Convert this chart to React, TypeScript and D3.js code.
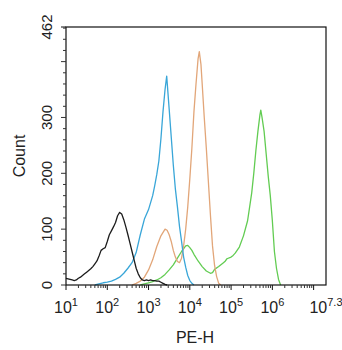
import * as d3 from 'd3';
import React, { useEffect, useRef } from 'react';

// [log10(PE-H), count]
const blackCounts: [number, number][] = [
  [1.0, 12], [1.05, 11], [1.1, 10], [1.15, 9], [1.2, 8], [1.25, 9], [1.3, 12], [1.35, 14],
  [1.4, 17], [1.45, 20], [1.5, 23], [1.55, 26], [1.6, 29], [1.65, 33], [1.7, 38], [1.75, 43],
  [1.8, 52], [1.85, 62], [1.9, 65], [1.95, 67], [2.0, 78], [2.05, 90], [2.1, 97], [2.15, 104],
  [2.2, 112], [2.25, 124], [2.3, 130], [2.35, 127], [2.4, 117], [2.45, 104], [2.5, 90], [2.55, 75],
  [2.6, 60], [2.65, 45], [2.7, 30], [2.75, 20], [2.8, 13], [2.85, 9], [2.9, 8], [2.95, 9],
  [3.0, 8], [3.05, 9], [3.1, 8], [3.15, 8], [3.2, 7], [3.25, 7], [3.3, 5], [3.35, 3], [3.4, 1], [3.45, 0],
];

const blueCounts: [number, number][] = [
  [1.7, 0], [1.8, 2], [1.9, 4], [2.0, 5], [2.1, 7], [2.2, 10], [2.3, 14], [2.4, 21], [2.5, 30],
  [2.6, 40], [2.7, 58], [2.8, 90], [2.9, 118], [3.0, 135], [3.1, 160], [3.15, 178], [3.2, 198],
  [3.25, 222], [3.3, 262], [3.35, 310], [3.4, 350], [3.44, 374], [3.5, 315], [3.55, 265], [3.6, 215],
  [3.65, 172], [3.7, 140], [3.75, 105], [3.8, 78], [3.85, 50], [3.9, 32], [3.95, 17], [4.0, 8],
  [4.05, 3], [4.1, 0],
];

const orangeCounts: [number, number][] = [
  [2.6, 0], [2.7, 3], [2.8, 7], [2.9, 14], [3.0, 27], [3.1, 45], [3.2, 69], [3.3, 88], [3.4, 100],
  [3.45, 98], [3.5, 90], [3.55, 78], [3.6, 62], [3.65, 50], [3.7, 42], [3.75, 40], [3.8, 48],
  [3.85, 70], [3.9, 100], [3.95, 140], [4.0, 190], [4.05, 245], [4.1, 310], [4.15, 360], [4.2, 405],
  [4.23, 418], [4.27, 395], [4.3, 360], [4.35, 300], [4.4, 245], [4.45, 185], [4.5, 125], [4.55, 70],
  [4.6, 35], [4.65, 15], [4.7, 3], [4.75, 0],
];

const greenCounts: [number, number][] = [
  [2.8, 0], [2.9, 2], [3.0, 4], [3.1, 6], [3.2, 9], [3.3, 13], [3.4, 19], [3.5, 27], [3.6, 36],
  [3.7, 48], [3.8, 60], [3.9, 70], [3.95, 71], [4.0, 67], [4.05, 62], [4.1, 55], [4.2, 43], [4.3, 33],
  [4.4, 25], [4.5, 21], [4.55, 22], [4.6, 28], [4.7, 33], [4.8, 39], [4.85, 42], [4.9, 47], [5.0, 50],
  [5.05, 53], [5.1, 57], [5.2, 68], [5.3, 88], [5.4, 115], [5.45, 140], [5.5, 165], [5.55, 200],
  [5.6, 240], [5.65, 275], [5.7, 305], [5.72, 313], [5.75, 300], [5.8, 275], [5.85, 235], [5.9, 195],
  [5.95, 160], [6.0, 115], [6.05, 60], [6.1, 30], [6.15, 10], [6.2, 0],
];

const xDecades = [1, 2, 3, 4, 5, 6];
const xTickLabels = ['1', '2', '3', '4', '5', '6', '7.3'];
const yTickLabels = [0, 100, 200, 300, 462];

const App: React.FC = () => {
  const ref = useRef<SVGSVGElement>(null);

  useEffect(() => {
    document.body.style.margin = '0';
    const width = 342;
    const height = 350;
    const left = 66, right = 326, top = 27, bottom = 285;

    const x = d3.scaleLinear().domain([1, 7.3]).range([left, right]);
    const y = d3.scaleLinear().domain([0, 462]).range([bottom, top]);

    const svg = d3.select(ref.current);
    svg.selectAll('*').remove();
    svg.attr('width', width).attr('height', height).style('background', '#fff');

    const font = 'Liberation Sans, Arial, sans-serif';

    // curves
    const line = d3
      .line<[number, number]>()
      .x(d => x(d[0]))
      .y(d => y(d[1]));

    const series: [[number, number][], string][] = [
      [greenCounts, '#62cc52'],
      [orangeCounts, '#e2a679'],
      [blueCounts, '#39a6d8'],
      [blackCounts, '#1c1c1c'],
    ];
    series.forEach(([data, color]) => {
      svg
        .append('path')
        .attr('d', line(data))
        .attr('fill', 'none')
        .attr('stroke', color)
        .attr('stroke-width', 1.3)
        .attr('stroke-linejoin', 'round');
    });

    // frame
    svg
      .append('rect')
      .attr('x', left)
      .attr('y', top)
      .attr('width', right - left)
      .attr('height', bottom - top)
      .attr('fill', 'none')
      .attr('stroke', '#111')
      .attr('stroke-width', 1.2);

    // x ticks
    const xt = svg.append('g');
    xDecades.forEach(k => {
      xt.append('line')
        .attr('x1', x(k)).attr('x2', x(k))
        .attr('y1', bottom).attr('y2', bottom + 5)
        .attr('stroke', '#111');
      for (let m = 2; m <= 9; m++) {
        const v = k + Math.log10(m);
        xt.append('line')
          .attr('x1', x(v)).attr('x2', x(v))
          .attr('y1', bottom).attr('y2', bottom + 3)
          .attr('stroke', '#333');
      }
    });
    xt.append('line')
      .attr('x1', x(7)).attr('x2', x(7))
      .attr('y1', bottom).attr('y2', bottom + 5)
      .attr('stroke', '#111');

    xTickLabels.forEach(lab => {
      const t = xt
        .append('text')
        .attr('x', x(+lab))
        .attr('y', 313)
        .attr('text-anchor', 'middle')
        .attr('font-family', font)
        .attr('font-size', 16)
        .attr('fill', '#222');
      t.append('tspan').text('10');
      t.append('tspan').attr('dy', -7).attr('font-size', 11).text(lab);
    });

    // y ticks
    const yt = svg.append('g');
    d3.range(0, 462, 20).forEach(v => {
      const major = v % 100 === 0;
      yt.append('line')
        .attr('x1', left - (major ? 5 : 3)).attr('x2', left)
        .attr('y1', y(v)).attr('y2', y(v))
        .attr('stroke', '#333');
    });
    yt.append('line')
      .attr('x1', left - 5).attr('x2', left)
      .attr('y1', y(462)).attr('y2', y(462))
      .attr('stroke', '#111');

    yTickLabels.forEach(v => {
      yt.append('text')
        .attr('transform', `translate(52,${y(v)}) rotate(-90)`)
        .attr('text-anchor', 'middle')
        .attr('font-family', font)
        .attr('font-size', 15)
        .attr('fill', '#222')
        .text(String(v));
    });

    // axis titles
    svg
      .append('text')
      .attr('x', 195)
      .attr('y', 343)
      .attr('text-anchor', 'middle')
      .attr('font-family', font)
      .attr('font-size', 16)
      .attr('fill', '#222')
      .text('PE-H');

    svg
      .append('text')
      .attr('transform', `translate(25,${(top + bottom) / 2}) rotate(-90)`)
      .attr('text-anchor', 'middle')
      .attr('font-family', font)
      .attr('font-size', 16)
      .attr('fill', '#222')
      .text('Count');
  }, []);

  return <svg ref={ref} style={{ display: 'block' }} />;
};

export default App;
